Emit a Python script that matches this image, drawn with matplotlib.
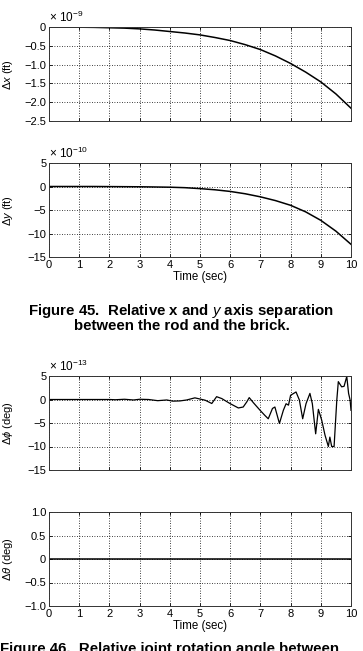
import matplotlib
matplotlib.use("Agg")
import matplotlib.pyplot as plt
from matplotlib.ticker import FuncFormatter

plt.rcParams['font.family'] = ['Liberation Sans', 'DejaVu Sans']
plt.rcParams['mathtext.fontset'] = 'custom'
plt.rcParams['mathtext.rm'] = 'Liberation Sans'
plt.rcParams['mathtext.it'] = 'Liberation Sans:italic'
plt.rcParams['mathtext.bf'] = 'Liberation Sans:bold'
plt.rcParams['axes.unicode_minus'] = True

# ---------------- data ----------------
t_xy = [0, 0.5, 1, 1.5, 2, 2.5, 3, 3.5, 4, 4.5, 5, 5.5, 6, 6.5, 7, 7.5, 8, 8.5, 9, 9.5, 10]
dx_e9 = [0, 0, -0.005, -0.01, -0.02, -0.03, -0.05, -0.08, -0.12, -0.16, -0.21,
         -0.28, -0.36, -0.47, -0.6, -0.77, -0.97, -1.2, -1.46, -1.78, -2.16]
dy_e10 = [0, 0, 0, 0, -0.02, -0.04, -0.06, -0.1, -0.15, -0.25, -0.45,
          -0.7, -1.05, -1.55, -2.2, -3.0, -4.0, -5.4, -7.2, -9.5, -12.3]

t_phi = [0, 1, 2, 2.2, 2.5, 2.8, 3.0, 3.3, 3.6, 3.9, 4.1, 4.34, 4.56, 4.83, 5.0, 5.17,
         5.39, 5.55, 5.72, 5.99, 6.27, 6.43, 6.55, 6.63, 6.77, 6.99, 7.15, 7.26,
         7.40, 7.48, 7.63, 7.76, 7.85, 7.93, 8.00, 8.18, 8.29, 8.40, 8.51, 8.64,
         8.72, 8.83, 8.92, 9.03, 9.14, 9.25, 9.30, 9.36, 9.44, 9.53, 9.58, 9.69,
         9.77, 9.86, 9.92, 9.97, 10.0]
dphi_e13 = [0, 0, 0, -0.05, 0.05, -0.1, 0.05, 0.0, -0.25, -0.1, -0.35, -0.3, -0.1,
            0.35, 0.1, -0.15, -0.85, 0.6, 0.2, -0.85, -1.8, -1.6, -0.5, 0.4, -0.7,
            -2.3, -3.4, -4.1, -1.9, -1.6, -5.1, -2.3, -0.9, -1.2, 0.9, 1.6, -0.1,
            -4.1, -0.9, 1.3, -0.9, -7.3, -2.1, -4.4, -7.6, -10.0, -8.0, -10.0, -10.0,
            -0.1, 3.8, 2.7, 2.8, 4.9, 1.3, -0.1, -2.3]

t_theta = [0, 10]
dtheta = [0, 0]

xticks = list(range(0, 11))

W, H = 363, 651
fig = plt.figure(figsize=(W / 100, H / 100), dpi=100)
FS = 8

def frac_axes(top, bottom):
    left, right = 49, 351
    return fig.add_axes([left / W, 1 - bottom / H, (right - left) / W, (bottom - top) / H])

def fmt(v, pos, dec):
    if abs(v) < 1e-12:
        return '0'
    s = f'{v:.{dec}f}'
    return s.replace('-', '\u2212')

def style(ax, yticks, ylim, dec, ylabel, show_x):
    ax.set_xlim(0, 10)
    ax.set_ylim(*ylim)
    ax.set_xticks(xticks)
    ax.set_yticks(yticks)
    ax.yaxis.set_major_formatter(FuncFormatter(lambda v, p: fmt(v, p, dec)))
    ax.grid(True, color='black', linestyle=(0, (1, 2)), linewidth=0.6)
    ax.tick_params(direction='in', length=2.5, width=0.6, labelsize=FS, pad=2,
                   top=True, right=True, colors='black')
    if not show_x:
        ax.tick_params(labelbottom=False)
    else:
        ax.set_xlabel('Time (sec)', fontsize=FS + 0.3, labelpad=1)
    for s in ax.spines.values():
        s.set_linewidth(0.7)
        s.set_color('#333333')
    ax.set_ylabel(ylabel, fontsize=FS)
    ax.yaxis.set_label_coords(-0.112, 0.5)

def offset(ax, txt):
    ax.text(0.0, 1.02, txt, transform=ax.transAxes, fontsize=8.5, ha='left', va='bottom')

ax1 = frac_axes(27, 121)
ax1.plot(t_xy, dx_e9, color='black', lw=1.1)
style(ax1, [0, -0.5, -1.0, -1.5, -2.0, -2.5], (-2.5, 0), 1, r'$\Delta x$ (ft)', False)
offset(ax1, r'$\times\ 10^{-9}$')

ax2 = frac_axes(163, 257)
ax2.plot(t_xy, dy_e10, color='black', lw=1.1)
style(ax2, [5, 0, -5, -10, -15], (-15, 5), 0, r'$\Delta y$ (ft)', True)
offset(ax2, r'$\times\ 10^{-10}$')

ax3 = frac_axes(376, 470)
ax3.plot(t_phi, dphi_e13, color='black', lw=0.9)
style(ax3, [5, 0, -5, -10, -15], (-15, 5), 0, r'$\Delta \phi$ (deg)', False)
offset(ax3, r'$\times\ 10^{-13}$')

ax4 = frac_axes(512, 606)
ax4.plot(t_theta, dtheta, color='black', lw=1.1)
style(ax4, [1.0, 0.5, 0, -0.5, -1.0], (-1.0, 1.0), 1, r'$\Delta \theta$ (deg)', True)

CFS = 10.8
fig.text(0.5, 1 - 302 / H, r'Figure 45.  Relative x and $\mathit{y}$ axis separation',
         ha='center', va='top', fontsize=CFS, fontweight='bold')
fig.text(0.5, 1 - 319 / H, 'between the rod and the brick.',
         ha='center', va='top', fontsize=CFS, fontweight='bold')
fig.text(0.0, 1 - 642 / H, 'Figure 46.  Relative joint rotation angle between',
         ha='left', va='top', fontsize=CFS, fontweight='bold')

fig.savefig('out.png', dpi=100, facecolor='white')
